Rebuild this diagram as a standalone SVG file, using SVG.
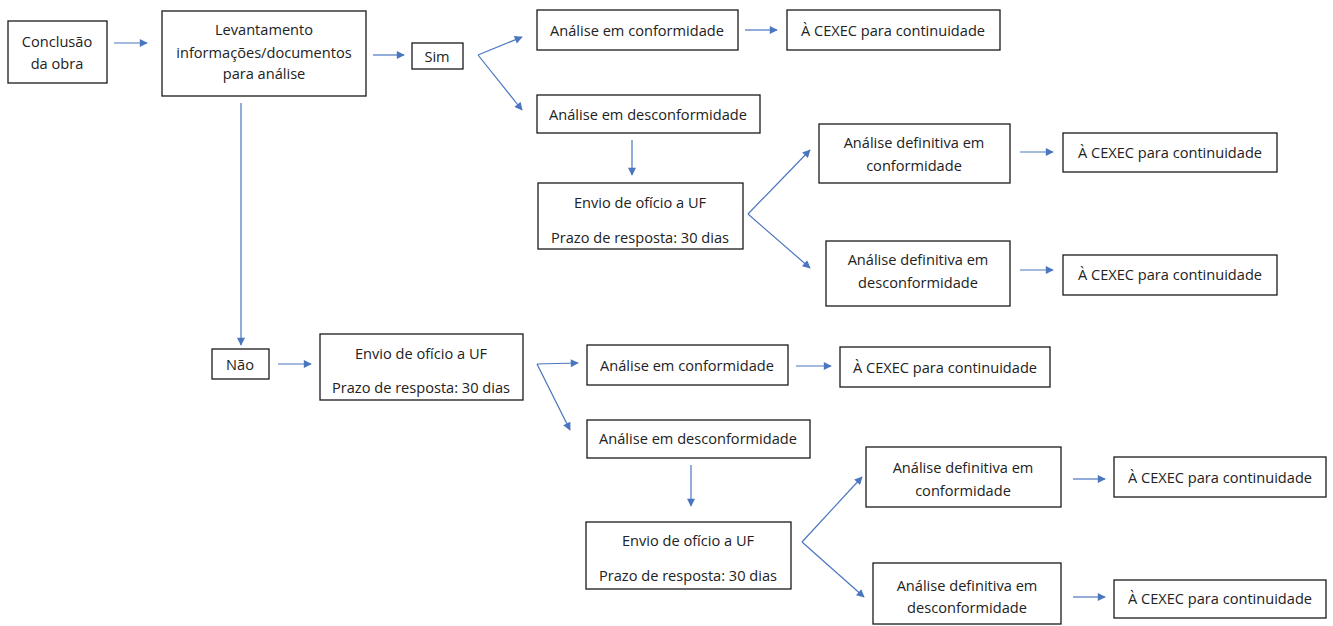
<svg xmlns="http://www.w3.org/2000/svg" width="1333" height="626" viewBox="0 0 1333 626">
<style>
.b{fill:#fff;stroke:#1a1a1a;stroke-width:1.3}
.t{font-family:"Open Sans","Noto Sans",sans-serif;font-size:14.6px;fill:#222;text-anchor:middle;dominant-baseline:central}
.c{fill:none;stroke:#4a76c0;stroke-width:1.2}
</style>
<defs>
<marker id="ah" viewBox="0 0 10 10" refX="9" refY="5" markerWidth="9" markerHeight="8" markerUnits="userSpaceOnUse" orient="auto">
<path d="M0,0 L10,5 L0,10 z" fill="#4a76c0"/>
</marker>
</defs>
<rect width="1333" height="626" fill="#fff"/>
<g id="connectors">
<line class="c" x1="114" y1="43" x2="147" y2="43" marker-end="url(#ah)"/>
<line class="c" x1="373" y1="55" x2="404" y2="55" marker-end="url(#ah)"/>
<line class="c" x1="478" y1="55" x2="522" y2="37" marker-end="url(#ah)"/>
<line class="c" x1="478" y1="55" x2="522" y2="110" marker-end="url(#ah)"/>
<line class="c" x1="745" y1="30" x2="777" y2="30" marker-end="url(#ah)"/>
<line class="c" x1="632" y1="140" x2="632" y2="175" marker-end="url(#ah)"/>
<line class="c" x1="748" y1="214" x2="810" y2="150" marker-end="url(#ah)"/>
<line class="c" x1="748" y1="214" x2="810" y2="268" marker-end="url(#ah)"/>
<line class="c" x1="1020" y1="152" x2="1053" y2="152" marker-end="url(#ah)"/>
<line class="c" x1="1020" y1="270" x2="1053" y2="270" marker-end="url(#ah)"/>
<line class="c" x1="241" y1="103" x2="241" y2="345" marker-end="url(#ah)"/>
<line class="c" x1="278" y1="364" x2="311" y2="364" marker-end="url(#ah)"/>
<line class="c" x1="537" y1="364" x2="578" y2="363" marker-end="url(#ah)"/>
<line class="c" x1="537" y1="364" x2="570" y2="430" marker-end="url(#ah)"/>
<line class="c" x1="796" y1="366" x2="831" y2="366" marker-end="url(#ah)"/>
<line class="c" x1="691" y1="465" x2="691" y2="506" marker-end="url(#ah)"/>
<line class="c" x1="802" y1="542" x2="862" y2="477" marker-end="url(#ah)"/>
<line class="c" x1="802" y1="542" x2="864" y2="597" marker-end="url(#ah)"/>
<line class="c" x1="1073" y1="479" x2="1105" y2="479" marker-end="url(#ah)"/>
<line class="c" x1="1073" y1="597" x2="1105" y2="597" marker-end="url(#ah)"/>
</g>
<g id="n1"><rect class="b" x="8" y="21" width="99" height="62"/><text class="t" x="57" y="41">Conclusão</text><text class="t" x="57" y="63">da obra</text></g>
<g id="n2"><rect class="b" x="162" y="11" width="204" height="85"/><text class="t" x="264" y="29">Levantamento</text><text class="t" x="264" y="52">informações/documentos</text><text class="t" x="264" y="73">para análise</text></g>
<g id="n3"><rect class="b" x="412" y="43" width="51" height="26"/><text class="t" x="437" y="56">Sim</text></g>
<g id="n4"><rect class="b" x="537" y="10" width="201" height="40"/><text class="t" x="637" y="30">Análise em conformidade</text></g>
<g id="n5"><rect class="b" x="787" y="10" width="213" height="40"/><text class="t" x="893" y="30">À CEXEC para continuidade</text></g>
<g id="n6"><rect class="b" x="537" y="95" width="223" height="38"/><text class="t" x="648" y="114">Análise em desconformidade</text></g>
<g id="n7"><rect class="b" x="538" y="183" width="205" height="66"/><text class="t" x="640" y="202">Envio de ofício a UF</text><text class="t" x="640" y="237">Prazo de resposta: 30 dias</text></g>
<g id="n8"><rect class="b" x="819" y="124" width="191" height="59"/><text class="t" x="914" y="142">Análise definitiva em</text><text class="t" x="914" y="165">conformidade</text></g>
<g id="n9"><rect class="b" x="1063" y="133" width="214" height="39"/><text class="t" x="1170" y="152">À CEXEC para continuidade</text></g>
<g id="n10"><rect class="b" x="826" y="241" width="184" height="65"/><text class="t" x="918" y="259">Análise definitiva em</text><text class="t" x="918" y="282">desconformidade</text></g>
<g id="n11"><rect class="b" x="1063" y="255" width="214" height="40"/><text class="t" x="1170" y="274">À CEXEC para continuidade</text></g>
<g id="n12"><rect class="b" x="212" y="349" width="57" height="30"/><text class="t" x="240" y="364">Não</text></g>
<g id="n13"><rect class="b" x="320" y="334" width="203" height="66"/><text class="t" x="421" y="353">Envio de ofício a UF</text><text class="t" x="421" y="387">Prazo de resposta: 30 dias</text></g>
<g id="n14"><rect class="b" x="587" y="345" width="201" height="40"/><text class="t" x="687" y="365">Análise em conformidade</text></g>
<g id="n15"><rect class="b" x="840" y="347" width="210" height="40"/><text class="t" x="945" y="367">À CEXEC para continuidade</text></g>
<g id="n16"><rect class="b" x="587" y="420" width="223" height="38"/><text class="t" x="698" y="438">Análise em desconformidade</text></g>
<g id="n17"><rect class="b" x="586" y="522" width="205" height="67"/><text class="t" x="688" y="540">Envio de ofício a UF</text><text class="t" x="688" y="575">Prazo de resposta: 30 dias</text></g>
<g id="n18"><rect class="b" x="866" y="447" width="195" height="60"/><text class="t" x="963" y="467">Análise definitiva em</text><text class="t" x="963" y="490">conformidade</text></g>
<g id="n19"><rect class="b" x="1114" y="457" width="212" height="40"/><text class="t" x="1220" y="477">À CEXEC para continuidade</text></g>
<g id="n20"><rect class="b" x="873" y="563" width="188" height="61"/><text class="t" x="967" y="585">Análise definitiva em</text><text class="t" x="967" y="607">desconformidade</text></g>
<g id="n21"><rect class="b" x="1114" y="580" width="212" height="38"/><text class="t" x="1220" y="598">À CEXEC para continuidade</text></g>
</svg>
